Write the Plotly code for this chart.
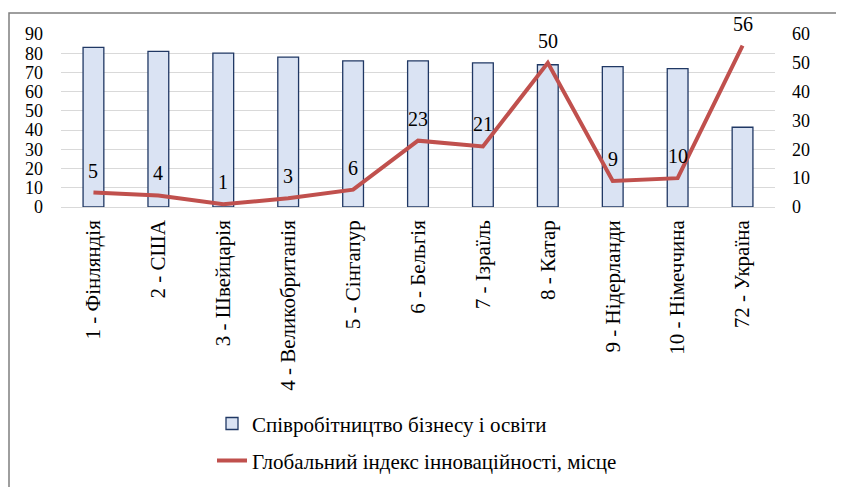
import plotly.graph_objects as go

categories = ["1 - Фінляндія", "2 - США", "3 - Швейцарія", "4 - Великобританія",
              "5 - Сінгапур", "6 - Бельгія", "7 - Ізраїль", "8 - Катар",
              "9 - Нідерланди", "10 - Німеччина", "72 - Україна"]
cooperation = [83, 81, 80, 78, 76, 76, 75, 74, 73, 72, 41.5]
gii_rank = [5, 4, 1, 3, 6, 23, 21, 50, 9, 10, 56]
left_ticks = [0, 10, 20, 30, 40, 50, 60, 70, 80, 90]
right_ticks = [0, 10, 20, 30, 40, 50, 60]

FONT = "Times New Roman, Liberation Serif, DejaVu Serif, serif"
FS = 21
FS_Y = 18

fig = go.Figure()
fig.add_trace(go.Bar(
    x=categories, y=cooperation, name="Співробітництво бізнесу і освіти",
    marker=dict(color="#dae3f3", line=dict(color="#203864", width=1.3)),
    width=0.32, legend="legend",
))
fig.add_trace(go.Scatter(
    x=categories, y=gii_rank, yaxis="y2", mode="lines",
    name="Глобальний індекс інноваційності, місце",
    line=dict(color="#c0504d", width=4), legend="legend2",
))
for c, v in zip(categories, gii_rank):
    fig.add_annotation(x=c, y=v, yref="y2", text=str(v), showarrow=False,
                       yshift=22, font=dict(family=FONT, size=20, color="black"))

OFF = 8  # page body margin
W, H = 844 - OFF, 487 - OFF
PL, PR, PT, PB = 61, 775, 34, 207.5  # plot area in screen pixels
L, R, T, B = PL - OFF, W - (PR - OFF), PT - OFF, H - (PB - OFF)
pw, ph = W - L - R, H - T - B
def px(x):
    return (x - PL) / pw
def py(y):
    return (PB - y) / ph

fig.add_shape(type="rect", xref="paper", yref="paper",
              x0=px(9), x1=px(843), y0=py(495), y1=py(13),
              line=dict(color="#7f7f7f", width=1.5), layer="below")

fig.update_layout(
    width=W, height=H,
    margin=dict(l=L, r=R, t=T, b=B, autoexpand=False),
    plot_bgcolor="white", paper_bgcolor="white",
    font=dict(family=FONT, size=FS, color="black"),
    showlegend=True,
    xaxis=dict(tickangle=-90, showgrid=False, showline=False, ticks="",
               tickfont=dict(family=FONT, size=FS), range=[-0.5, 10.5],
               automargin=False, ticklabelstandoff=8),
    yaxis=dict(range=[0, 90], tickvals=left_ticks, showgrid=True,
               gridcolor="#d9d9d9", gridwidth=1.3, zeroline=True,
               zerolinecolor="#d9d9d9", zerolinewidth=1.3, showline=False,
               ticks="", tickfont=dict(family=FONT, size=FS_Y), automargin=False,
               ticklabelstandoff=17),
    yaxis2=dict(range=[0, 60], tickvals=right_ticks, overlaying="y", side="right",
                showgrid=False, zeroline=False, showline=False, ticks="",
                tickfont=dict(family=FONT, size=FS_Y), automargin=False,
                ticklabelstandoff=16),
    legend=dict(x=px(212), y=py(425), xanchor="left", yanchor="middle",
                bgcolor="rgba(0,0,0,0)", font=dict(family=FONT, size=FS)),
    legend2=dict(x=px(212), y=py(462), xanchor="left", yanchor="middle",
                 bgcolor="rgba(0,0,0,0)", font=dict(family=FONT, size=FS)),
    bargap=0.68,
)

fig.write_html("out.html")
